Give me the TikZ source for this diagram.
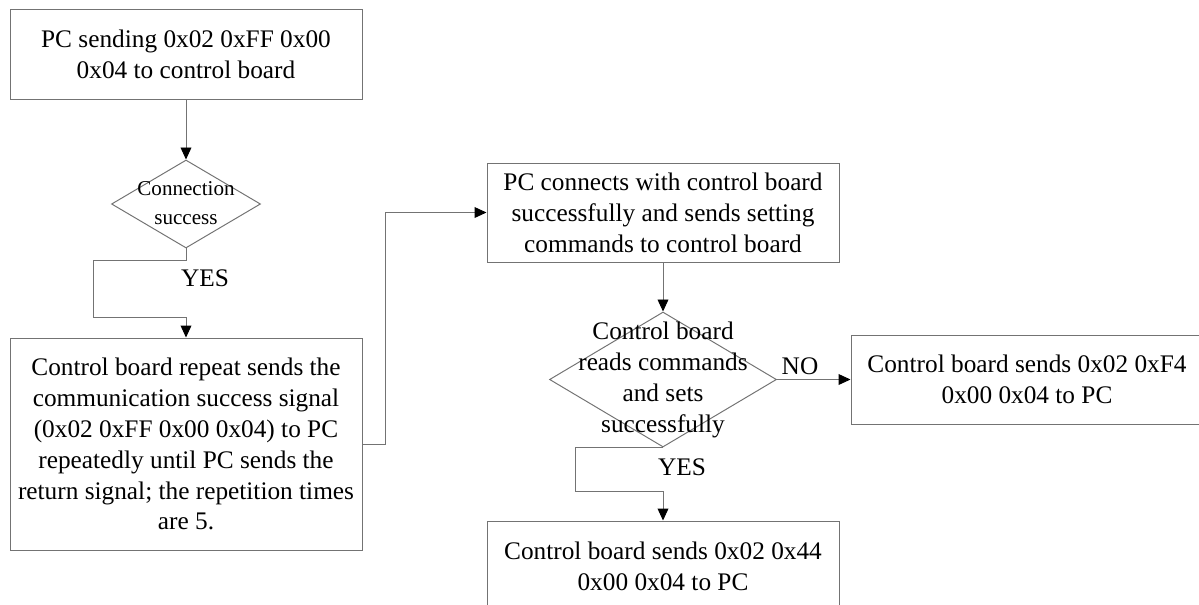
\documentclass[tikz,border=0pt]{standalone}
\usepackage{fontspec}
\setmainfont{Liberation Serif}
\usepackage{tikz}
\usetikzlibrary{positioning, shapes.geometric, arrows.meta, calc}

% text that may run over the edges of a decision diamond
\newcommand{\spilltext}[1]{\makebox[0pt]{\begin{tabular}{@{}c@{}}#1\end{tabular}}}

\begin{document}
\begin{tikzpicture}[
  every node/.style={font=\rmfamily\fontsize{18}{22}\selectfont},
  flow/.style={draw=gray!90!black, line width=0.7pt,
               -{Triangle[black, length=0.3cm, width=0.27cm]}},
  stepbox/.style={draw=gray!90!black, line width=0.7pt, minimum width=8.8cm,
                  align=center, inner sep=4pt},
  decision/.style={diamond, draw=gray!90!black, line width=0.7pt, inner sep=0pt}
]
\useasboundingbox (0,0) rectangle (29.975,-15.1);

% ---- LEFT COLUMN: handshake ----
\node[stepbox, minimum height=2.25cm] (send) at (4.65, -1.35)
  {PC sending 0x02 0xFF 0x00\\0x04 to control board};
\node[decision, minimum width=3.725cm, minimum height=2.2cm,
      font=\rmfamily\fontsize{15}{21.3}\selectfont] (conn)
  at (4.65, -5.1) {\spilltext{Connection\\success}};
\node[stepbox, minimum height=5.3cm] (repeat) at (4.65, -11.1)
  {Control board repeat sends the\\communication success signal\\
  (0x02 0xFF 0x00 0x04) to PC\\repeatedly until PC sends the\\
  return signal; the repetition times\\are 5.};
\node (yesA) at (5.125, -6.95) {YES};
\coordinate (bendA) at (2.325, -7.925);

% ---- RIGHT COLUMN: setting commands ----
\node[stepbox, minimum height=2.475cm] (setcmd) at (16.575, -5.3125)
  {PC connects with control board\\successfully and sends setting\\
  commands to control board};
\node[decision, minimum width=5.675cm, minimum height=3.375cm] (reads)
  at (16.575, -9.4875)
  {\spilltext{Control board\\reads commands\\and sets\\successfully}};
\node[stepbox, minimum height=2.225cm] (fail) at (25.675, -9.4875)
  {Control board sends 0x02 0xF4\\0x00 0x04 to PC};
\node[stepbox, minimum height=2.25cm] (ok) at (16.575, -14.15)
  {Control board sends 0x02 0x44\\0x00 0x04 to PC};
\node (no) at (20.0, -9.15) {NO};
\node (yesB) at (17.05, -11.675) {YES};
\coordinate (bendB) at (14.375, -12.275);

% ---- CONNECTORS ----
\draw[flow] (send) -- (conn);
\draw[flow] (conn.south) -- ++(0,-0.3) -| (bendA) -| (repeat.north);
\draw[flow] (repeat.east) -- ++(0.575,0) |- (setcmd.west);
\draw[flow] (setcmd) -- (reads);
\draw[flow] (reads.east) -- (fail.west);
\draw[flow] (reads.south) -| (bendB) -| (ok.north);

\end{tikzpicture}
\end{document}
